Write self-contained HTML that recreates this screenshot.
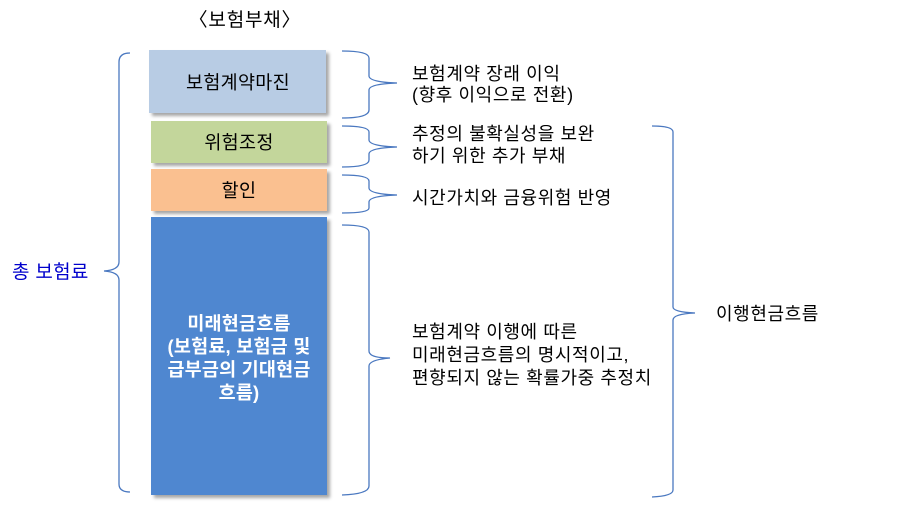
<!DOCTYPE html>
<html><head><meta charset="utf-8"><style>
html,body{margin:0;padding:0;background:#fff;width:909px;height:505px;overflow:hidden}
svg text{font-family:"Liberation Sans","Noto Sans CJK KR",sans-serif;}
</style></head><body>
<svg width="909" height="505" viewBox="0 0 909 505" xmlns="http://www.w3.org/2000/svg">
<defs>
<filter id="sh" x="-10%" y="-10%" width="130%" height="130%"><feDropShadow dx="3" dy="3" stdDeviation="1.5" flood-color="#000" flood-opacity="0.35"/></filter>
</defs>
<text x="245" y="26" font-size="19" letter-spacing="0.8" text-anchor="middle" fill="#000">〈보험부채〉</text>
<g filter="url(#sh)">
<rect x="149" y="50" width="177" height="63" fill="#b8cce4"/>
<rect x="151" y="121" width="176" height="42" fill="#c3d69b"/>
<rect x="151" y="169" width="176" height="42" fill="#fac090"/>
<rect x="151" y="217" width="176" height="278" fill="#4f87d0"/>
</g>
<g font-size="18.5" letter-spacing="0.3" text-anchor="middle">
<text x="238" y="89">보험계약마진</text>
<text x="239" y="149">위험조정</text>
<text x="239" y="197">할인</text>
</g>
<g fill="#fff" font-size="18.5" font-weight="bold" text-anchor="middle" letter-spacing="0.2">
<text x="239" y="330">미래현금흐름</text>
<text x="239" y="353">(보험료, 보험금 및</text>
<text x="239" y="376">급부금의 기대현금</text>
<text x="239" y="399">흐름)</text>
</g>
<g fill="none" stroke="#4a78c0" stroke-width="1.3">
<path d="M130,53 Q119,53 119,62 L119,262 Q119,270 104,271 Q119,272 119,280 L119,484 Q119,492 130,492"/>
<path d="M342,51 Q369,51 369,58 L369,76 Q369,82 397,83 Q369,84 369,90 L369,110 Q369,118 342,118"/>
<path d="M342,126 Q369,126 369,132 L369,140 Q369,146 397,147 Q369,148 369,154 L369,160 Q369,167 342,167"/>
<path d="M342,175 Q369,175 369,181 L369,188 Q369,194 397,195 Q369,196 369,202 L369,208 Q369,213 342,213"/>
<path d="M342,225 Q369,225 369,232 L369,351 Q369,358 390,358 Q369,360 369,366 L369,486 Q369,494 342,495"/>
<path d="M652,126 Q673,126 673,132 L673,307 Q673,312 695,313 Q673,314 673,320 L673,490 Q673,496 652,497"/>
</g>
<text x="12" y="278" font-size="19" letter-spacing="0.3" fill="#0000cc">총 보험료</text>
<g font-size="18" letter-spacing="0.6" fill="#000">
<text x="412" y="80">보험계약 장래 이익</text>
<text x="412" y="101">(향후 이익으로 전환)</text>
<text x="412" y="140">추정의 불확실성을 보완</text>
<text x="412" y="162">하기 위한 추가 부채</text>
<text x="412" y="204">시간가치와 금융위험 반영</text>
<text x="412" y="338">보험계약 이행에 따른</text>
<text x="412" y="361">미래현금흐름의 명시적이고,</text>
<text x="412" y="384">편향되지 않는 확률가중 추정치</text>
<text x="716" y="320">이행현금흐름</text>
</g>
</svg>
</body></html>
